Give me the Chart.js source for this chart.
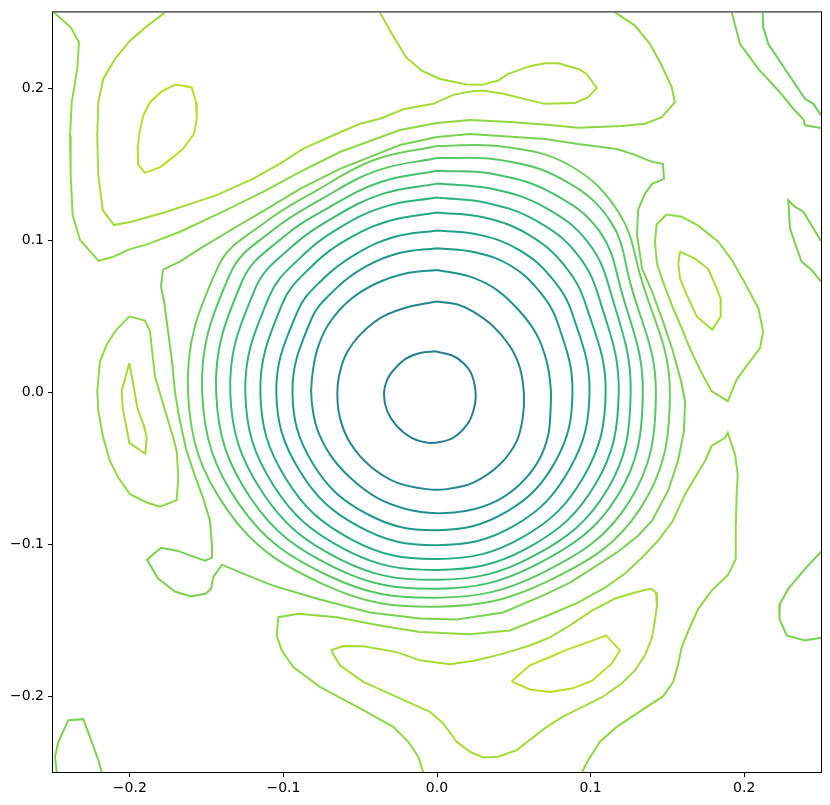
<!DOCTYPE html>
<html>
<head>
<meta charset="utf-8">
<script src="https://cdn.jsdelivr.net/npm/chart.js@4/dist/chart.umd.min.js"></script>
<style>
  html, body { margin: 0; padding: 0; background: #fff; }
  canvas { display: block; }
</style>
</head>
<body>
<canvas id="c" width="830" height="805"></canvas>
<script>
// tick labels on both axes
const tickValues = [-0.2, -0.1, 0, 0.1, 0.2];

// inner rings, traced as x,y pairs
const ring1 = [[-0.0013,0.0269],[-0.0111,0.0258],[-0.0202,0.0221],[-0.028,0.0149],[-0.0324,0.0083],[-0.0345,-0.0015],[-0.0324,-0.0125],[-0.0262,-0.0223],[-0.0165,-0.030],[-0.0057,-0.0333],[0.002,-0.0328],[0.0106,-0.030],[0.0193,-0.0217],[0.0236,-0.0125],[0.0252,-0.0015],[0.0226,0.0116],[0.0171,0.0192],[0.0096,0.0243]];
const ring2 = [[-0.0002,0.0597],[-0.0176,0.0564],[-0.035,0.0499],[-0.049,0.0389],[-0.0588,0.0258],[-0.0636,0.0116],[-0.0649,-0.0015],[-0.0632,-0.0169],[-0.0566,-0.0333],[-0.0436,-0.0486],[-0.0262,-0.0595],[-0.0067,-0.0638],[0.0063,-0.0638],[0.0236,-0.0595],[0.041,-0.0474],[0.0519,-0.0322],[0.0558,-0.0169],[0.0566,-0.0015],[0.054,0.0159],[0.0475,0.0302],[0.0367,0.0433],[0.0236,0.0531],[0.0128,0.0579]];
const ring3 = [[-0.0002,0.0805],[-0.0197,0.0783],[-0.0393,0.0717],[-0.0566,0.0608],[-0.0708,0.0444],[-0.0783,0.0269],[-0.0816,0.0072],[-0.0816,-0.0059],[-0.0783,-0.0234],[-0.0697,-0.0409],[-0.0566,-0.0562],[-0.0393,-0.0694],[-0.0197,-0.077],[-0.0002,-0.0796],[0.0193,-0.0781],[0.0389,-0.0715],[0.054,-0.0606],[0.066,-0.0453],[0.0725,-0.0278],[0.074,-0.0103],[0.074,0.0028],[0.0714,0.0203],[0.0649,0.0379],[0.054,0.0531],[0.0389,0.0674],[0.0215,0.0761]];

// outer rings: radius read at each bearing (degrees clockwise from top)
const ringAngles = [0, 15, 30, 45, 60, 90, 120, 150, 180, 210, 240, 270, 300, 315, 330, 345];
const ring4 = [0.0948,0.0954,0.0961,0.0941,0.0908,0.0882,0.0895,0.0908,0.0908,0.0922,0.0935,0.0941,0.0948,0.0948,0.0948,0.0948];
const ring5 = [0.1065,0.1072,0.1078,0.1059,0.1020,0.0993,0.1000,0.1013,0.1007,0.1020,0.1033,0.1046,0.1052,0.1052,0.1052,0.1059];
const ring6 = [0.1183,0.1190,0.1196,0.1176,0.1124,0.1098,0.1105,0.1105,0.1098,0.1118,0.1137,0.1150,0.1163,0.1163,0.1163,0.1170];
const ring7 = [0.1281,0.1288,0.1301,0.1288,0.1222,0.1183,0.1196,0.1183,0.1170,0.1196,0.1229,0.1248,0.1261,0.1255,0.1255,0.1268];
const ring8 = [0.1373,0.1386,0.1405,0.1392,0.1307,0.1261,0.1281,0.1248,0.1235,0.1268,0.1314,0.1346,0.1366,0.1346,0.1333,0.1353];
const ring9 = [0.1458,0.1484,0.1510,0.1497,0.1379,0.1340,0.1359,0.1307,0.1294,0.1333,0.1399,0.1438,0.1464,0.1431,0.1405,0.1431];
const ring10 = [0.1542,0.1582,0.1621,0.1595,0.1451,0.1425,0.1444,0.1373,0.1353,0.1399,0.1484,0.1529,0.1556,0.1510,0.1477,0.1510];
const ring11 = [0.1621,0.1673,0.1725,0.1673,0.1529,0.1516,0.1529,0.1438,0.1412,0.1464,0.1569,0.1621,0.1647,0.1582,0.1542,0.1582];

// irregular contours
const outerRing = [[-0.1784,0.0807],[-0.1673,0.0860],[-0.1543,0.0945],[-0.1328,0.1076],[-0.1107,0.1207],[-0.0892,0.1339],[-0.0632,0.1470],[-0.0241,0.1627],[0,0.1680],[0.0215,0.1699],[0.0703,0.1667],[0.0918,0.1634],[0.1172,0.1601],[0.1289,0.1562],[0.1400,0.1516],[0.1471,0.1503],[0.1478,0.1404],[0.1400,0.1371],[0.1354,0.1306],[0.1309,0.1201],[0.1302,0.1037],[0.1335,0.0814],[0.1400,0.0663],[0.1471,0.0466],[0.1536,0.0269],[0.1589,0.0072],[0.1615,-0.0059],[0.1608,-0.0256],[0.1569,-0.0453],[0.1504,-0.0650],[0.1400,-0.0846],[0.1309,-0.0945],[0.1178,-0.1050],[0.1029,-0.1148],[0.0866,-0.1253],[0.0703,-0.1332],[0.0430,-0.1450],[0.0130,-0.1496],[-0.0111,-0.1490],[-0.0436,-0.1450],[-0.0762,-0.1365],[-0.1068,-0.1273],[-0.1263,-0.1194],[-0.1400,-0.1135],[-0.1458,-0.1220],[-0.1471,-0.1293],[-0.1504,-0.1325],[-0.1602,-0.1345],[-0.1706,-0.1312],[-0.1816,-0.1227],[-0.1888,-0.1102],[-0.1797,-0.1024],[-0.1693,-0.1043],[-0.1510,-0.1109],[-0.1465,-0.1089],[-0.1465,-0.1010],[-0.1478,-0.0846],[-0.1523,-0.0696],[-0.1576,-0.0551],[-0.1634,-0.0374],[-0.1680,-0.0157],[-0.1706,0],[-0.1725,0.0203],[-0.1751,0.0400],[-0.1777,0.0597],[-0.1797,0.0696]];
const topArc = [[-0.2493,0.25],[-0.2385,0.2402],[-0.2331,0.2303],[-0.2342,0.2128],[-0.2378,0.1909],[-0.2389,0.1691],[-0.2385,0.1428],[-0.2372,0.1166],[-0.2324,0.1002],[-0.2203,0.0864],[-0.2107,0.0892],[-0.1999,0.0942],[-0.1888,0.0973],[-0.1673,0.1056],[-0.1393,0.1188],[-0.1107,0.1332],[-0.0892,0.1450],[-0.0632,0.1581],[-0.0241,0.1726],[0,0.1772],[0.0215,0.1791],[0.0475,0.1778],[0.0736,0.1759],[0.0918,0.1741],[0.1202,0.1752],[0.1354,0.1767],[0.1463,0.1811],[0.1549,0.1909],[0.1528,0.2008],[0.1463,0.2150],[0.1387,0.2292],[0.1289,0.2413],[0.1159,0.25]];
const topFold = [[-0.1771,0.25],[-0.1890,0.2408],[-0.1999,0.2314],[-0.2096,0.2194],[-0.2173,0.2062],[-0.2205,0.1909],[-0.2212,0.1691],[-0.2205,0.1428],[-0.2176,0.1199],[-0.2103,0.1100],[-0.1988,0.1122],[-0.1760,0.1188],[-0.1434,0.1297],[-0.1196,0.1406],[-0.1022,0.1505],[-0.0870,0.1603],[-0.0653,0.1701],[-0.0501,0.1767],[-0.0371,0.1800],[-0.0219,0.1862],[-0.0024,0.1898],[0.0106,0.1957],[0.0215,0.1980],[0.0301,0.1986],[0.0432,0.1964],[0.0605,0.1921],[0.0703,0.1898],[0.0898,0.1903],[0.0985,0.1942],[0.1040,0.2001],[0.0975,0.2095],[0.0920,0.2128],[0.0790,0.2165],[0.0703,0.2165],[0.0605,0.2146],[0.0464,0.2095],[0.0399,0.2052],[0.0291,0.2023],[0.0193,0.2026],[0.0020,0.2062],[-0.0100,0.2117],[-0.0202,0.2205],[-0.0306,0.2380],[-0.0371,0.25]];
const topLeftEye = [[-0.1701,0.2026],[-0.1597,0.2006],[-0.1569,0.1909],[-0.1564,0.1800],[-0.1582,0.1701],[-0.1652,0.1603],[-0.1717,0.1549],[-0.1799,0.1483],[-0.1901,0.1444],[-0.1945,0.1498],[-0.1949,0.1603],[-0.1938,0.1701],[-0.1912,0.1822],[-0.1868,0.1909],[-0.1792,0.1980]];
const leftBlob = [[-0.2003,0.0499],[-0.1901,0.0472],[-0.1868,0.0400],[-0.1857,0.0291],[-0.1836,0.0105],[-0.1782,-0.0081],[-0.1717,-0.0300],[-0.1695,-0.0387],[-0.1684,-0.0562],[-0.1695,-0.0711],[-0.1803,-0.0753],[-0.1890,-0.0726],[-0.1999,-0.0671],[-0.2075,-0.0562],[-0.2129,-0.0453],[-0.2173,-0.0300],[-0.2205,-0.0125],[-0.2212,0.0007],[-0.2194,0.0203],[-0.2150,0.0313],[-0.2096,0.0400]];
const leftEye = [[-0.2003,0.0192],[-0.1973,0.0028],[-0.1951,-0.0103],[-0.1908,-0.0223],[-0.1890,-0.0300],[-0.1899,-0.0405],[-0.2003,-0.0333],[-0.2046,-0.0103],[-0.2053,0.0007]];
const rightLoop = [[0.1495,0.1170],[0.1593,0.1155],[0.1701,0.1096],[0.1831,0.0991],[0.1919,0.0871],[0.2005,0.0717],[0.2092,0.0553],[0.2124,0.0400],[0.2103,0.0291],[0.2005,0.0159],[0.1951,0.0083],[0.1893,-0.0059],[0.1788,0.0007],[0.1734,0.0105],[0.1691,0.0192],[0.1636,0.0313],[0.1593,0.0422],[0.1528,0.0575],[0.1471,0.0728],[0.1432,0.0846],[0.1419,0.0991],[0.1430,0.1104]];
const rightEye = [[0.1582,0.0925],[0.1680,0.0879],[0.1764,0.0814],[0.1816,0.0696],[0.1846,0.0617],[0.1847,0.0499],[0.1792,0.0411],[0.1691,0.0499],[0.1626,0.0641],[0.1582,0.0750],[0.1571,0.0846]];
const cornerOuter = [[0.1919,0.25],[0.1973,0.2292],[0.2092,0.2128],[0.2222,0.1986],[0.2320,0.1866],[0.2385,0.1796],[0.2396,0.1757],[0.25,0.1739]];
const cornerInner = [[0.2120,0.25],[0.2124,0.2402],[0.2157,0.2292],[0.2222,0.2194],[0.2309,0.2062],[0.2396,0.1931],[0.2450,0.1898],[0.25,0.1824]];
const edgeWedge = [[0.25,0.0995],[0.2385,0.1188],[0.2331,0.1220],[0.2287,0.1264],[0.2298,0.1078],[0.2342,0.0947],[0.2374,0.0860],[0.2439,0.0805],[0.25,0.0728]];
const bottomArc = [[-0.0091,-0.25],[-0.0122,-0.2400],[-0.0187,-0.2301],[-0.0285,-0.2203],[-0.0480,-0.2093],[-0.0762,-0.1940],[-0.0936,-0.1809],[-0.1011,-0.1699],[-0.1044,-0.1601],[-0.1033,-0.1481],[-0.0903,-0.1459],[-0.0653,-0.1481],[-0.0371,-0.1535],[-0.0111,-0.1579],[0.0215,-0.1594],[0.0475,-0.1568],[0.0736,-0.1463],[0.0918,-0.1385],[0.1094,-0.1286],[0.1224,-0.1194],[0.1335,-0.1089],[0.1439,-0.0978],[0.1536,-0.0846],[0.1615,-0.0671],[0.1680,-0.0562],[0.1745,-0.0453],[0.1788,-0.0354],[0.1875,-0.0300],[0.1893,-0.0267],[0.1940,-0.0409],[0.1958,-0.0540],[0.1951,-0.0671],[0.1945,-0.0890],[0.1945,-0.1098],[0.1896,-0.1201],[0.1788,-0.1306],[0.1701,-0.1426],[0.1647,-0.1547],[0.1593,-0.1678],[0.1571,-0.1787],[0.1538,-0.1907],[0.1473,-0.2001],[0.1333,-0.2093],[0.1170,-0.2203],[0.1061,-0.2301],[0.0985,-0.2421],[0.0944,-0.25]];
const bottomFold = [[-0.0690,-0.1699],[-0.0610,-0.1671],[-0.0480,-0.1673],[-0.0262,-0.1711],[-0.0111,-0.1765],[0.0085,-0.1791],[0.0258,-0.1765],[0.0432,-0.1721],[0.0605,-0.1667],[0.0736,-0.1614],[0.0866,-0.1535],[0.1009,-0.1437],[0.1159,-0.1358],[0.1289,-0.1319],[0.1393,-0.1293],[0.1426,-0.1319],[0.1432,-0.1404],[0.1419,-0.1503],[0.1400,-0.1614],[0.1354,-0.1732],[0.1289,-0.1831],[0.1204,-0.1916],[0.1074,-0.2008],[0.0944,-0.2073],[0.0814,-0.2139],[0.0703,-0.2211],[0.0519,-0.2356],[0.0399,-0.2400],[0.0301,-0.2404],[0.0215,-0.2367],[0.0128,-0.2301],[0.0041,-0.2180],[-0.0046,-0.2104],[-0.0262,-0.2006],[-0.0480,-0.1907],[-0.0632,-0.1798]];
const bottomEye = [[0.0486,-0.1903],[0.0605,-0.1798],[0.0736,-0.1743],[0.0833,-0.1699],[0.0985,-0.1645],[0.1100,-0.1601],[0.1191,-0.1699],[0.1137,-0.1787],[0.1007,-0.1901],[0.0877,-0.1951],[0.0736,-0.1973],[0.0605,-0.1957]];
const cornerLowRight = [[0.25,-0.1050],[0.2396,-0.1163],[0.2287,-0.1295],[0.2233,-0.1393],[0.2229,-0.1491],[0.2277,-0.1601],[0.2396,-0.1634],[0.25,-0.1616]];
const cornerLowLeft = [[-0.2476,-0.25],[-0.2487,-0.2400],[-0.2465,-0.2301],[-0.2400,-0.2159],[-0.2303,-0.2152],[-0.2248,-0.2301],[-0.2205,-0.2421],[-0.2183,-0.25]];

// colours per contour level, dark teal inside to yellow-green outside
const levelColors = ['#277f8e','#24878e','#21918c','#1f998a','#1fa188','#24aa83','#2db27d','#3aba76','#48c16e','#58c765','#6ccd5a','#7ad151','#8fd744','#a5db36','#bade28'];

function fromPairs(pairs, closed) {
  const p = pairs.map(([x, y]) => ({ x: x, y: y }));
  if (closed) p.push({ x: pairs[0][0], y: pairs[0][1] });
  return p;
}
function fromRadii(radii) {
  const p = ringAngles.map((a, i) => ({
    x: radii[i] * Math.sin(a * Math.PI / 180),
    y: radii[i] * Math.cos(a * Math.PI / 180)
  }));
  p.push({ x: p[0].x, y: p[0].y });
  return p;
}
function line(data, level, tension) {
  return {
    data: data,
    showLine: true,
    borderColor: levelColors[level - 1],
    borderWidth: 2,
    pointRadius: 0,
    fill: false,
    tension: tension
  };
}

const datasets = [
  line(fromPairs(ring1, true), 1, 0.3),
  line(fromPairs(ring2, true), 2, 0.3),
  line(fromPairs(ring3, true), 3, 0.3),
  line(fromRadii(ring4), 4, 0.4),
  line(fromRadii(ring5), 5, 0.4),
  line(fromRadii(ring6), 6, 0.4),
  line(fromRadii(ring7), 7, 0.4),
  line(fromRadii(ring8), 8, 0.4),
  line(fromRadii(ring9), 9, 0.4),
  line(fromRadii(ring10), 10, 0.4),
  line(fromRadii(ring11), 11, 0.4),
  line(fromPairs(outerRing, true), 12, 0),
  line(fromPairs(cornerOuter, false), 12, 0),
  line(fromPairs(cornerInner, false), 11, 0),
  line(fromPairs(edgeWedge, false), 12, 0),
  line(fromPairs(cornerLowRight, false), 12, 0),
  line(fromPairs(cornerLowLeft, false), 12, 0),
  line(fromPairs(topArc, false), 13, 0),
  line(fromPairs(leftBlob, true), 13, 0),
  line(fromPairs(rightLoop, true), 13, 0),
  line(fromPairs(bottomArc, false), 13, 0),
  line(fromPairs(topFold, false), 14, 0),
  line(fromPairs(leftEye, true), 14, 0),
  line(fromPairs(rightEye, true), 14, 0),
  line(fromPairs(bottomFold, true), 14, 0),
  line(fromPairs(topLeftEye, true), 15, 0),
  line(fromPairs(bottomEye, true), 15, 0)
];

// box round the plot area
const frame = {
  id: 'frame',
  afterDatasetsDraw(chart) {
    const a = chart.chartArea;
    const ctx = chart.ctx;
    ctx.save();
    ctx.strokeStyle = '#000';
    ctx.lineWidth = 1;
    ctx.strokeRect(a.left - 0.5, a.top - 0.5, a.right - a.left + 1, a.bottom - a.top + 1);
    ctx.restore();
  }
};

function tickLabel(v) {
  return (v < 0 ? '\u2212' : '') + Math.abs(v).toFixed(1);
}
function fixedTicks(axis) {
  axis.ticks = tickValues.map(v => ({ value: v }));
}

const ctx = document.getElementById('c').getContext('2d');
new Chart(ctx, {
  type: 'scatter',
  data: { datasets: datasets },
  plugins: [frame],
  options: {
    responsive: false,
    animation: false,
    devicePixelRatio: 1,
    layout: { padding: { left: 0, right: 9, top: 10, bottom: 0 } },
    plugins: { legend: { display: false }, tooltip: { enabled: false } },
    scales: {
      x: {
        type: 'linear',
        min: -0.25,
        max: 0.25,
        afterBuildTicks: fixedTicks,
        afterFit: s => { s.height = 33; },
        border: { display: false },
        grid: { display: true, drawOnChartArea: false, drawTicks: true, tickLength: 5, color: '#000', lineWidth: 1 },
        ticks: { callback: tickLabel, color: '#000', padding: 3, maxRotation: 0, font: { family: 'DejaVu Sans', size: 14 } }
      },
      y: {
        type: 'linear',
        min: -0.25,
        max: 0.25,
        afterBuildTicks: fixedTicks,
        afterFit: s => { s.width = 53; },
        border: { display: false },
        grid: { display: true, drawOnChartArea: false, drawTicks: true, tickLength: 5, color: '#000', lineWidth: 1 },
        ticks: { callback: tickLabel, color: '#000', padding: 4, font: { family: 'DejaVu Sans', size: 14 } }
      }
    }
  }
});
</script>
</body>
</html>
